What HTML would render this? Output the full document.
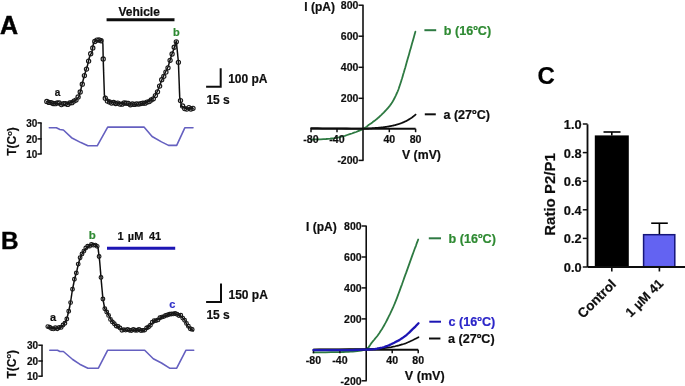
<!DOCTYPE html>
<html><head><meta charset="utf-8"><style>
html,body{margin:0;padding:0;background:#fff;}
body{width:685px;height:386px;overflow:hidden;font-family:"Liberation Sans",sans-serif;}
svg{display:block;}
</style></head><body>
<svg width="685" height="386" viewBox="0 0 685 386">
<defs><filter id="bl" x="0" y="0" width="685" height="386" filterUnits="userSpaceOnUse"><feGaussianBlur stdDeviation="0.35"/></filter></defs>
<rect width="685" height="386" fill="#fff"/>
<g filter="url(#bl)">
<text x="0.0" y="33.6" font-size="25" text-anchor="start" fill="#000" font-family="Liberation Sans, sans-serif" font-weight="bold" stroke="#000" stroke-width="0.5">A</text>
<text x="139.2" y="15.8" font-size="12" text-anchor="middle" fill="#111" font-family="Liberation Sans, sans-serif" font-weight="bold"  stroke="#111" stroke-width="0.2">Vehicle</text>
<line x1="106.6" y1="19.7" x2="174.5" y2="19.7" stroke="#111" stroke-width="3"/>
<text x="176.3" y="35.5" font-size="11" text-anchor="middle" fill="#2f8a33" font-family="Liberation Sans, sans-serif" font-weight="bold"  stroke="#2f8a33" stroke-width="0.2">b</text>
<text x="57.5" y="96.3" font-size="10" text-anchor="middle" fill="#111" font-family="Liberation Sans, sans-serif" font-weight="bold"  stroke="#111" stroke-width="0.2">a</text>
<polyline points="46.6,101.8 52.8,103.3 61.5,104.0 65.0,104.2 70.3,102.8 75.5,100.5 79.0,96.5 81.2,88.0 83.3,79.5 85.7,71.0 87.2,66.6 89.6,56.5 92.0,52.0 93.5,43.0 95.9,40.1 97.4,40.6 99.8,41.0 101.8,39.6 102.9,44.0 103.2,59.0 104.4,95.0 105.5,98.5 108.0,101.0 112.0,102.5 118.0,103.2 125.0,103.8 130.0,104.0 136.0,104.2 140.0,104.0 145.0,103.0 148.0,101.5 151.0,99.8 154.0,97.5 156.0,94.0 158.0,90.0 162.0,79.5 165.0,73.0 168.0,67.0 171.6,55.0 173.6,49.7 176.3,41.0 178.4,62.0 179.7,97.0 181.5,106.0 185.0,108.2 193.0,108.5" fill="none" stroke="#111" stroke-width="1.5" stroke-linejoin="round" stroke-linecap="round" />
<circle cx="46.8" cy="101.4" r="2.1" fill="none" stroke="#1a1a1a" stroke-width="1.15"/>
<circle cx="48.9" cy="102.4" r="2.1" fill="none" stroke="#1a1a1a" stroke-width="1.15"/>
<circle cx="51.0" cy="102.6" r="2.1" fill="none" stroke="#1a1a1a" stroke-width="1.15"/>
<circle cx="53.1" cy="103.5" r="2.1" fill="none" stroke="#1a1a1a" stroke-width="1.15"/>
<circle cx="55.2" cy="103.7" r="2.1" fill="none" stroke="#1a1a1a" stroke-width="1.15"/>
<circle cx="57.2" cy="102.9" r="2.1" fill="none" stroke="#1a1a1a" stroke-width="1.15"/>
<circle cx="59.3" cy="102.9" r="2.1" fill="none" stroke="#1a1a1a" stroke-width="1.15"/>
<circle cx="61.4" cy="104.6" r="2.1" fill="none" stroke="#1a1a1a" stroke-width="1.15"/>
<circle cx="63.5" cy="103.7" r="2.1" fill="none" stroke="#1a1a1a" stroke-width="1.15"/>
<circle cx="65.6" cy="103.6" r="2.1" fill="none" stroke="#1a1a1a" stroke-width="1.15"/>
<circle cx="67.7" cy="104.4" r="2.1" fill="none" stroke="#1a1a1a" stroke-width="1.15"/>
<circle cx="69.8" cy="102.9" r="2.1" fill="none" stroke="#1a1a1a" stroke-width="1.15"/>
<circle cx="71.9" cy="102.7" r="2.1" fill="none" stroke="#1a1a1a" stroke-width="1.15"/>
<circle cx="74.0" cy="101.1" r="2.1" fill="none" stroke="#1a1a1a" stroke-width="1.15"/>
<circle cx="76.0" cy="100.1" r="2.1" fill="none" stroke="#1a1a1a" stroke-width="1.15"/>
<circle cx="78.1" cy="96.9" r="2.1" fill="none" stroke="#1a1a1a" stroke-width="1.15"/>
<circle cx="80.2" cy="92.0" r="2.1" fill="none" stroke="#1a1a1a" stroke-width="1.15"/>
<circle cx="82.3" cy="84.2" r="2.1" fill="none" stroke="#1a1a1a" stroke-width="1.15"/>
<circle cx="84.4" cy="75.6" r="2.1" fill="none" stroke="#1a1a1a" stroke-width="1.15"/>
<circle cx="86.5" cy="69.1" r="2.1" fill="none" stroke="#1a1a1a" stroke-width="1.15"/>
<circle cx="88.6" cy="61.1" r="2.1" fill="none" stroke="#1a1a1a" stroke-width="1.15"/>
<circle cx="90.7" cy="53.7" r="2.1" fill="none" stroke="#1a1a1a" stroke-width="1.15"/>
<circle cx="92.8" cy="47.9" r="2.1" fill="none" stroke="#1a1a1a" stroke-width="1.15"/>
<circle cx="94.8" cy="41.5" r="2.1" fill="none" stroke="#1a1a1a" stroke-width="1.15"/>
<circle cx="96.9" cy="40.1" r="2.1" fill="none" stroke="#1a1a1a" stroke-width="1.15"/>
<circle cx="99.0" cy="40.0" r="2.1" fill="none" stroke="#1a1a1a" stroke-width="1.15"/>
<circle cx="101.1" cy="40.7" r="2.1" fill="none" stroke="#1a1a1a" stroke-width="1.15"/>
<circle cx="103.2" cy="59.0" r="2.1" fill="none" stroke="#1a1a1a" stroke-width="1.15"/>
<circle cx="105.3" cy="98.2" r="2.1" fill="none" stroke="#1a1a1a" stroke-width="1.15"/>
<circle cx="107.4" cy="101.1" r="2.1" fill="none" stroke="#1a1a1a" stroke-width="1.15"/>
<circle cx="109.5" cy="101.9" r="2.1" fill="none" stroke="#1a1a1a" stroke-width="1.15"/>
<circle cx="111.6" cy="103.1" r="2.1" fill="none" stroke="#1a1a1a" stroke-width="1.15"/>
<circle cx="113.6" cy="102.5" r="2.1" fill="none" stroke="#1a1a1a" stroke-width="1.15"/>
<circle cx="115.7" cy="103.5" r="2.1" fill="none" stroke="#1a1a1a" stroke-width="1.15"/>
<circle cx="117.8" cy="103.1" r="2.1" fill="none" stroke="#1a1a1a" stroke-width="1.15"/>
<circle cx="119.9" cy="104.1" r="2.1" fill="none" stroke="#1a1a1a" stroke-width="1.15"/>
<circle cx="122.0" cy="104.2" r="2.1" fill="none" stroke="#1a1a1a" stroke-width="1.15"/>
<circle cx="124.1" cy="103.0" r="2.1" fill="none" stroke="#1a1a1a" stroke-width="1.15"/>
<circle cx="126.2" cy="103.2" r="2.1" fill="none" stroke="#1a1a1a" stroke-width="1.15"/>
<circle cx="128.3" cy="103.4" r="2.1" fill="none" stroke="#1a1a1a" stroke-width="1.15"/>
<circle cx="130.4" cy="104.8" r="2.1" fill="none" stroke="#1a1a1a" stroke-width="1.15"/>
<circle cx="132.4" cy="104.0" r="2.1" fill="none" stroke="#1a1a1a" stroke-width="1.15"/>
<circle cx="134.5" cy="104.4" r="2.1" fill="none" stroke="#1a1a1a" stroke-width="1.15"/>
<circle cx="136.6" cy="103.8" r="2.1" fill="none" stroke="#1a1a1a" stroke-width="1.15"/>
<circle cx="138.7" cy="104.1" r="2.1" fill="none" stroke="#1a1a1a" stroke-width="1.15"/>
<circle cx="140.8" cy="103.6" r="2.1" fill="none" stroke="#1a1a1a" stroke-width="1.15"/>
<circle cx="142.9" cy="103.2" r="2.1" fill="none" stroke="#1a1a1a" stroke-width="1.15"/>
<circle cx="145.0" cy="103.2" r="2.1" fill="none" stroke="#1a1a1a" stroke-width="1.15"/>
<circle cx="147.1" cy="102.1" r="2.1" fill="none" stroke="#1a1a1a" stroke-width="1.15"/>
<circle cx="149.2" cy="101.6" r="2.1" fill="none" stroke="#1a1a1a" stroke-width="1.15"/>
<circle cx="151.2" cy="99.9" r="2.1" fill="none" stroke="#1a1a1a" stroke-width="1.15"/>
<circle cx="153.3" cy="98.8" r="2.1" fill="none" stroke="#1a1a1a" stroke-width="1.15"/>
<circle cx="155.4" cy="95.6" r="2.1" fill="none" stroke="#1a1a1a" stroke-width="1.15"/>
<circle cx="157.5" cy="91.8" r="2.1" fill="none" stroke="#1a1a1a" stroke-width="1.15"/>
<circle cx="159.6" cy="86.1" r="2.1" fill="none" stroke="#1a1a1a" stroke-width="1.15"/>
<circle cx="161.7" cy="79.7" r="2.1" fill="none" stroke="#1a1a1a" stroke-width="1.15"/>
<circle cx="163.8" cy="76.3" r="2.1" fill="none" stroke="#1a1a1a" stroke-width="1.15"/>
<circle cx="165.9" cy="72.1" r="2.1" fill="none" stroke="#1a1a1a" stroke-width="1.15"/>
<circle cx="168.0" cy="67.8" r="2.1" fill="none" stroke="#1a1a1a" stroke-width="1.15"/>
<circle cx="170.1" cy="60.3" r="2.1" fill="none" stroke="#1a1a1a" stroke-width="1.15"/>
<circle cx="172.1" cy="54.0" r="2.1" fill="none" stroke="#1a1a1a" stroke-width="1.15"/>
<circle cx="174.2" cy="47.2" r="2.1" fill="none" stroke="#1a1a1a" stroke-width="1.15"/>
<circle cx="176.3" cy="41.8" r="2.1" fill="none" stroke="#1a1a1a" stroke-width="1.15"/>
<circle cx="178.4" cy="62.3" r="2.1" fill="none" stroke="#1a1a1a" stroke-width="1.15"/>
<circle cx="180.5" cy="100.6" r="2.1" fill="none" stroke="#1a1a1a" stroke-width="1.15"/>
<circle cx="182.6" cy="105.9" r="2.1" fill="none" stroke="#1a1a1a" stroke-width="1.15"/>
<circle cx="184.7" cy="108.6" r="2.1" fill="none" stroke="#1a1a1a" stroke-width="1.15"/>
<circle cx="186.8" cy="109.1" r="2.1" fill="none" stroke="#1a1a1a" stroke-width="1.15"/>
<circle cx="188.9" cy="107.6" r="2.1" fill="none" stroke="#1a1a1a" stroke-width="1.15"/>
<circle cx="190.9" cy="109.0" r="2.1" fill="none" stroke="#1a1a1a" stroke-width="1.15"/>
<circle cx="193.0" cy="108.3" r="2.1" fill="none" stroke="#1a1a1a" stroke-width="1.15"/>
<polyline points="206.1,86.8 220.7,86.8 220.7,68.3" fill="none" stroke="#111" stroke-width="2"/>
<text x="228.2" y="83.1" font-size="12" text-anchor="start" fill="#111" font-family="Liberation Sans, sans-serif" font-weight="bold"  stroke="#111" stroke-width="0.2">100 pA</text>
<text x="206.4" y="103.9" font-size="12" text-anchor="start" fill="#111" font-family="Liberation Sans, sans-serif" font-weight="bold"  stroke="#111" stroke-width="0.2">15 s</text>
<line x1="41.0" y1="122.9" x2="41.0" y2="154.0" stroke="#111" stroke-width="1.5"/>
<line x1="37.5" y1="122.9" x2="41.7" y2="122.9" stroke="#111" stroke-width="1.5"/>
<line x1="37.5" y1="138.9" x2="41.7" y2="138.9" stroke="#111" stroke-width="1.5"/>
<line x1="37.5" y1="154.0" x2="41.7" y2="154.0" stroke="#111" stroke-width="1.5"/>
<text x="37.3" y="126.5" font-size="10" text-anchor="end" fill="#111" font-family="Liberation Sans, sans-serif" font-weight="bold"  stroke="#111" stroke-width="0.2">30</text>
<text x="37.3" y="142.5" font-size="10" text-anchor="end" fill="#111" font-family="Liberation Sans, sans-serif" font-weight="bold"  stroke="#111" stroke-width="0.2">20</text>
<text x="37.3" y="157.6" font-size="10" text-anchor="end" fill="#111" font-family="Liberation Sans, sans-serif" font-weight="bold"  stroke="#111" stroke-width="0.2">10</text>
<text x="0" y="0" font-size="12" text-anchor="middle" fill="#111" stroke="#111" stroke-width="0.2" font-family="Liberation Sans, sans-serif" font-weight="bold" transform="translate(16.0,141.5) rotate(-90)">T(C<tspan font-size="7.5" dy="-4.3">o</tspan><tspan dy="4.3">)</tspan></text>
<polyline points="49.3,127.8 56.4,127.8 59.9,129.5 63.4,130.0 71.5,137.7 80.9,142.6 87.9,145.8 97.2,145.8 107.7,127.1 144.0,127.1 152.1,136.5 161.5,141.9 168.5,145.4 176.7,145.4 184.8,127.8 193.0,127.8" fill="none" stroke="#6560c0" stroke-width="1.6" stroke-linejoin="round" stroke-linecap="round" />
<text x="0.9" y="249.1" font-size="24.3" text-anchor="start" fill="#000" font-family="Liberation Sans, sans-serif" font-weight="bold" stroke="#000" stroke-width="0.4">B</text>
<text x="117.6" y="240.3" font-size="11" text-anchor="start" fill="#111" font-family="Liberation Sans, sans-serif" font-weight="bold"  stroke="#111" stroke-width="0.2">1</text>
<text x="127.8" y="240.3" font-size="11" text-anchor="start" fill="#111" font-family="Liberation Sans, sans-serif" font-weight="bold"  stroke="#111" stroke-width="0.2">&#181;M</text>
<text x="148.9" y="240.3" font-size="11" text-anchor="start" fill="#111" font-family="Liberation Sans, sans-serif" font-weight="bold"  stroke="#111" stroke-width="0.2">41</text>
<line x1="107.0" y1="248.3" x2="175.2" y2="248.3" stroke="#1e14b4" stroke-width="3"/>
<text x="92.2" y="238.6" font-size="11.5" text-anchor="middle" fill="#2f8a33" font-family="Liberation Sans, sans-serif" font-weight="bold"  stroke="#2f8a33" stroke-width="0.2">b</text>
<text x="53.0" y="321.2" font-size="11" text-anchor="middle" fill="#111" font-family="Liberation Sans, sans-serif" font-weight="bold"  stroke="#111" stroke-width="0.2">a</text>
<text x="172.3" y="307.5" font-size="11" text-anchor="middle" fill="#3030c8" font-family="Liberation Sans, sans-serif" font-weight="bold"  stroke="#3030c8" stroke-width="0.2">c</text>
<polyline points="47.8,327.2 52.4,328.2 58.7,328.6 61.8,326.6 63.8,324.4 65.9,321.2 67.5,316.0 69.0,310.0 70.5,302.5 72.3,290.5 74.6,279.0 77.0,270.2 78.6,263.0 80.3,257.5 82.8,252.5 85.3,249.0 88.7,246.0 92.1,244.5 95.5,244.5 98.0,247.5 99.7,261.5 101.4,282.2 102.9,298.8 104.7,308.5 108.8,315.5 112.0,321.5 116.0,325.5 121.9,329.5 129.2,330.5 136.5,330.0 143.8,330.5 148.2,327.0 154.0,321.5 161.3,317.3 168.6,314.8 174.5,313.5 180.3,315.5 184.7,320.0 187.6,326.0 193.4,330.8" fill="none" stroke="#111" stroke-width="1.5" stroke-linejoin="round" stroke-linecap="round" />
<circle cx="47.8" cy="326.6" r="1.85" fill="none" stroke="#1a1a1a" stroke-width="1.15"/>
<circle cx="49.7" cy="327.3" r="1.85" fill="none" stroke="#1a1a1a" stroke-width="1.15"/>
<circle cx="51.6" cy="328.5" r="1.85" fill="none" stroke="#1a1a1a" stroke-width="1.15"/>
<circle cx="53.5" cy="328.9" r="1.85" fill="none" stroke="#1a1a1a" stroke-width="1.15"/>
<circle cx="55.4" cy="327.7" r="1.85" fill="none" stroke="#1a1a1a" stroke-width="1.15"/>
<circle cx="57.3" cy="328.7" r="1.85" fill="none" stroke="#1a1a1a" stroke-width="1.15"/>
<circle cx="59.2" cy="327.5" r="1.85" fill="none" stroke="#1a1a1a" stroke-width="1.15"/>
<circle cx="61.1" cy="327.4" r="1.85" fill="none" stroke="#1a1a1a" stroke-width="1.15"/>
<circle cx="63.0" cy="325.0" r="1.85" fill="none" stroke="#1a1a1a" stroke-width="1.15"/>
<circle cx="64.9" cy="323.3" r="1.85" fill="none" stroke="#1a1a1a" stroke-width="1.15"/>
<circle cx="66.8" cy="319.0" r="1.85" fill="none" stroke="#1a1a1a" stroke-width="1.15"/>
<circle cx="68.7" cy="311.2" r="1.85" fill="none" stroke="#1a1a1a" stroke-width="1.15"/>
<circle cx="70.6" cy="302.6" r="1.85" fill="none" stroke="#1a1a1a" stroke-width="1.15"/>
<circle cx="72.5" cy="289.2" r="1.85" fill="none" stroke="#1a1a1a" stroke-width="1.15"/>
<circle cx="74.4" cy="279.3" r="1.85" fill="none" stroke="#1a1a1a" stroke-width="1.15"/>
<circle cx="76.3" cy="272.9" r="1.85" fill="none" stroke="#1a1a1a" stroke-width="1.15"/>
<circle cx="78.2" cy="264.1" r="1.85" fill="none" stroke="#1a1a1a" stroke-width="1.15"/>
<circle cx="80.1" cy="257.7" r="1.85" fill="none" stroke="#1a1a1a" stroke-width="1.15"/>
<circle cx="82.0" cy="254.0" r="1.85" fill="none" stroke="#1a1a1a" stroke-width="1.15"/>
<circle cx="83.9" cy="251.1" r="1.85" fill="none" stroke="#1a1a1a" stroke-width="1.15"/>
<circle cx="85.8" cy="248.0" r="1.85" fill="none" stroke="#1a1a1a" stroke-width="1.15"/>
<circle cx="87.7" cy="246.2" r="1.85" fill="none" stroke="#1a1a1a" stroke-width="1.15"/>
<circle cx="89.6" cy="246.2" r="1.85" fill="none" stroke="#1a1a1a" stroke-width="1.15"/>
<circle cx="91.5" cy="244.5" r="1.85" fill="none" stroke="#1a1a1a" stroke-width="1.15"/>
<circle cx="93.4" cy="245.2" r="1.85" fill="none" stroke="#1a1a1a" stroke-width="1.15"/>
<circle cx="95.3" cy="245.1" r="1.85" fill="none" stroke="#1a1a1a" stroke-width="1.15"/>
<circle cx="97.2" cy="246.3" r="1.85" fill="none" stroke="#1a1a1a" stroke-width="1.15"/>
<circle cx="99.1" cy="256.5" r="1.85" fill="none" stroke="#1a1a1a" stroke-width="1.15"/>
<circle cx="101.0" cy="277.4" r="1.85" fill="none" stroke="#1a1a1a" stroke-width="1.15"/>
<circle cx="102.9" cy="299.0" r="1.85" fill="none" stroke="#1a1a1a" stroke-width="1.15"/>
<circle cx="104.8" cy="308.8" r="1.85" fill="none" stroke="#1a1a1a" stroke-width="1.15"/>
<circle cx="106.7" cy="312.0" r="1.85" fill="none" stroke="#1a1a1a" stroke-width="1.15"/>
<circle cx="108.6" cy="315.4" r="1.85" fill="none" stroke="#1a1a1a" stroke-width="1.15"/>
<circle cx="110.5" cy="319.4" r="1.85" fill="none" stroke="#1a1a1a" stroke-width="1.15"/>
<circle cx="112.4" cy="321.9" r="1.85" fill="none" stroke="#1a1a1a" stroke-width="1.15"/>
<circle cx="114.3" cy="323.7" r="1.85" fill="none" stroke="#1a1a1a" stroke-width="1.15"/>
<circle cx="116.2" cy="326.0" r="1.85" fill="none" stroke="#1a1a1a" stroke-width="1.15"/>
<circle cx="118.1" cy="326.5" r="1.85" fill="none" stroke="#1a1a1a" stroke-width="1.15"/>
<circle cx="120.0" cy="327.9" r="1.85" fill="none" stroke="#1a1a1a" stroke-width="1.15"/>
<circle cx="121.9" cy="330.3" r="1.85" fill="none" stroke="#1a1a1a" stroke-width="1.15"/>
<circle cx="123.8" cy="329.8" r="1.85" fill="none" stroke="#1a1a1a" stroke-width="1.15"/>
<circle cx="125.7" cy="330.1" r="1.85" fill="none" stroke="#1a1a1a" stroke-width="1.15"/>
<circle cx="127.6" cy="329.5" r="1.85" fill="none" stroke="#1a1a1a" stroke-width="1.15"/>
<circle cx="129.5" cy="330.3" r="1.85" fill="none" stroke="#1a1a1a" stroke-width="1.15"/>
<circle cx="131.4" cy="330.5" r="1.85" fill="none" stroke="#1a1a1a" stroke-width="1.15"/>
<circle cx="133.3" cy="329.5" r="1.85" fill="none" stroke="#1a1a1a" stroke-width="1.15"/>
<circle cx="135.2" cy="330.3" r="1.85" fill="none" stroke="#1a1a1a" stroke-width="1.15"/>
<circle cx="137.1" cy="330.3" r="1.85" fill="none" stroke="#1a1a1a" stroke-width="1.15"/>
<circle cx="139.0" cy="329.5" r="1.85" fill="none" stroke="#1a1a1a" stroke-width="1.15"/>
<circle cx="140.9" cy="330.5" r="1.85" fill="none" stroke="#1a1a1a" stroke-width="1.15"/>
<circle cx="142.8" cy="330.4" r="1.85" fill="none" stroke="#1a1a1a" stroke-width="1.15"/>
<circle cx="144.7" cy="330.1" r="1.85" fill="none" stroke="#1a1a1a" stroke-width="1.15"/>
<circle cx="146.6" cy="328.0" r="1.85" fill="none" stroke="#1a1a1a" stroke-width="1.15"/>
<circle cx="148.5" cy="327.0" r="1.85" fill="none" stroke="#1a1a1a" stroke-width="1.15"/>
<circle cx="150.4" cy="325.3" r="1.85" fill="none" stroke="#1a1a1a" stroke-width="1.15"/>
<circle cx="152.3" cy="322.3" r="1.85" fill="none" stroke="#1a1a1a" stroke-width="1.15"/>
<circle cx="154.2" cy="320.7" r="1.85" fill="none" stroke="#1a1a1a" stroke-width="1.15"/>
<circle cx="156.1" cy="320.6" r="1.85" fill="none" stroke="#1a1a1a" stroke-width="1.15"/>
<circle cx="158.0" cy="319.9" r="1.85" fill="none" stroke="#1a1a1a" stroke-width="1.15"/>
<circle cx="159.9" cy="317.7" r="1.85" fill="none" stroke="#1a1a1a" stroke-width="1.15"/>
<circle cx="161.8" cy="317.1" r="1.85" fill="none" stroke="#1a1a1a" stroke-width="1.15"/>
<circle cx="163.7" cy="316.6" r="1.85" fill="none" stroke="#1a1a1a" stroke-width="1.15"/>
<circle cx="165.6" cy="315.5" r="1.85" fill="none" stroke="#1a1a1a" stroke-width="1.15"/>
<circle cx="167.5" cy="315.0" r="1.85" fill="none" stroke="#1a1a1a" stroke-width="1.15"/>
<circle cx="169.4" cy="314.3" r="1.85" fill="none" stroke="#1a1a1a" stroke-width="1.15"/>
<circle cx="171.3" cy="314.0" r="1.85" fill="none" stroke="#1a1a1a" stroke-width="1.15"/>
<circle cx="173.2" cy="313.9" r="1.85" fill="none" stroke="#1a1a1a" stroke-width="1.15"/>
<circle cx="175.1" cy="313.4" r="1.85" fill="none" stroke="#1a1a1a" stroke-width="1.15"/>
<circle cx="177.0" cy="314.2" r="1.85" fill="none" stroke="#1a1a1a" stroke-width="1.15"/>
<circle cx="178.9" cy="315.5" r="1.85" fill="none" stroke="#1a1a1a" stroke-width="1.15"/>
<circle cx="180.8" cy="315.3" r="1.85" fill="none" stroke="#1a1a1a" stroke-width="1.15"/>
<circle cx="182.7" cy="318.1" r="1.85" fill="none" stroke="#1a1a1a" stroke-width="1.15"/>
<circle cx="184.6" cy="320.3" r="1.85" fill="none" stroke="#1a1a1a" stroke-width="1.15"/>
<circle cx="186.5" cy="323.4" r="1.85" fill="none" stroke="#1a1a1a" stroke-width="1.15"/>
<circle cx="188.4" cy="326.2" r="1.85" fill="none" stroke="#1a1a1a" stroke-width="1.15"/>
<circle cx="190.3" cy="328.7" r="1.85" fill="none" stroke="#1a1a1a" stroke-width="1.15"/>
<circle cx="192.2" cy="329.4" r="1.85" fill="none" stroke="#1a1a1a" stroke-width="1.15"/>
<polyline points="206.1,302.1 221,302.1 221,283.6" fill="none" stroke="#111" stroke-width="2"/>
<text x="228.5" y="298.5" font-size="12" text-anchor="start" fill="#111" font-family="Liberation Sans, sans-serif" font-weight="bold"  stroke="#111" stroke-width="0.2">150 pA</text>
<text x="206.4" y="319.2" font-size="12" text-anchor="start" fill="#111" font-family="Liberation Sans, sans-serif" font-weight="bold"  stroke="#111" stroke-width="0.2">15 s</text>
<line x1="42.0" y1="345.2" x2="42.0" y2="376.2" stroke="#111" stroke-width="1.5"/>
<line x1="38.3" y1="345.2" x2="42.7" y2="345.2" stroke="#111" stroke-width="1.5"/>
<line x1="38.3" y1="361.0" x2="42.7" y2="361.0" stroke="#111" stroke-width="1.5"/>
<line x1="38.3" y1="376.2" x2="42.7" y2="376.2" stroke="#111" stroke-width="1.5"/>
<text x="38.0" y="349.0" font-size="10" text-anchor="end" fill="#111" font-family="Liberation Sans, sans-serif" font-weight="bold"  stroke="#111" stroke-width="0.2">30</text>
<text x="38.0" y="364.6" font-size="10" text-anchor="end" fill="#111" font-family="Liberation Sans, sans-serif" font-weight="bold"  stroke="#111" stroke-width="0.2">20</text>
<text x="38.0" y="379.8" font-size="10" text-anchor="end" fill="#111" font-family="Liberation Sans, sans-serif" font-weight="bold"  stroke="#111" stroke-width="0.2">10</text>
<text x="0" y="0" font-size="12" text-anchor="middle" fill="#111" stroke="#111" stroke-width="0.2" font-family="Liberation Sans, sans-serif" font-weight="bold" transform="translate(15.6,364.3) rotate(-90)">T(C<tspan font-size="7.5" dy="-4.3">o</tspan><tspan dy="4.3">)</tspan></text>
<polyline points="49.8,350.2 57.5,350.2 59.9,351.5 63.4,351.5 72.7,359.5 79.7,364.2 87.9,368.2 98.4,368.2 107.7,350.2 144.7,350.2 153.3,358.8 161.5,363.0 169.6,368.2 176.7,368.2 186.0,350.2 193.7,350.2" fill="none" stroke="#6560c0" stroke-width="1.6" stroke-linejoin="round" stroke-linecap="round" />
<polyline points="311.0,128.2 313.8,128.2 317.7,128.2 322.4,128.3 327.4,128.3 332.4,128.4 337.0,128.4 341.6,128.4 346.5,128.5 351.5,128.6 356.1,128.6 360.0,128.7 363.0,128.7 364.8,128.7 365.6,128.7 365.8,128.7 365.6,128.6 365.5,128.6 365.6,128.6 366.1,128.6 366.5,128.6 366.9,128.5 367.4,128.5 367.8,128.5 368.3,128.5 368.7,128.5 369.1,128.4 369.6,128.4 370.0,128.4 370.5,128.4 370.9,128.3 371.3,128.3 371.8,128.3 372.2,128.2 372.6,128.2 373.1,128.2 373.5,128.2 374.0,128.1 374.4,128.1 374.8,128.1 375.3,128.0 375.7,128.0 376.1,128.0 376.6,127.9 377.0,127.9 377.5,127.9 377.9,127.8 378.3,127.8 378.8,127.7 379.2,127.7 379.7,127.6 380.1,127.6 380.5,127.6 381.0,127.5 381.4,127.5 381.8,127.4 382.3,127.4 382.7,127.3 383.2,127.3 383.6,127.2 384.0,127.1 384.5,127.1 384.9,127.0 385.4,127.0 385.8,126.9 386.2,126.8 386.7,126.8 387.1,126.7 387.5,126.6 388.0,126.6 388.4,126.5 388.9,126.4 389.3,126.3 389.7,126.2 390.2,126.2 390.6,126.1 391.1,126.0 391.5,125.9 391.9,125.8 392.4,125.7 392.8,125.6 393.2,125.5 393.7,125.4 394.1,125.3 394.6,125.2 395.0,125.1 395.4,125.0 395.9,124.9 396.3,124.7 396.8,124.6 397.2,124.5 397.6,124.4 398.1,124.2 398.5,124.1 398.9,124.0 399.4,123.8 399.8,123.7 400.3,123.5 400.7,123.4 401.1,123.2 401.6,123.0 402.0,122.9 402.4,122.7 402.9,122.5 403.3,122.3 403.8,122.1 404.2,121.9 404.6,121.7 405.1,121.5 405.5,121.3 406.0,121.1 406.4,120.9 406.8,120.7 407.3,120.4 407.7,120.2 408.1,119.9 408.6,119.7 409.0,119.4 409.5,119.2 409.9,118.9 410.3,118.6 410.8,118.3 411.2,118.0 411.7,117.7 412.1,117.4 412.5,117.1 413.0,116.8 413.4,116.4 413.9,116.0 414.4,115.6 414.9,115.2 415.3,114.8 415.6,114.6" fill="none" stroke="#111" stroke-width="1.8" stroke-linejoin="round" stroke-linecap="round" />
<polyline points="311.0,139.5 312.7,139.5 315.0,139.4 317.8,139.3 320.7,139.3 323.5,139.1 326.0,139.0 328.1,138.8 330.0,138.7 331.8,138.5 333.7,138.3 335.5,138.0 337.6,137.6 339.9,137.1 342.3,136.5 344.8,135.8 347.2,135.0 349.7,134.2 351.9,133.5 354.0,132.7 356.1,132.0 358.1,131.2 360.0,130.4 361.7,129.6 363.3,128.8 364.6,128.0 365.8,127.3 366.7,126.6 367.6,125.8 368.4,125.1 369.3,124.5 370.1,123.9 370.9,123.4 371.6,122.9 372.4,122.4 373.1,121.8 373.8,121.3 374.5,120.7 375.3,120.2 376.0,119.6 376.8,119.0 377.5,118.3 378.3,117.7 379.1,117.0 379.8,116.3 380.6,115.6 381.4,114.9 382.1,114.2 382.9,113.4 383.7,112.6 384.4,111.8 385.2,111.0 386.0,110.2 386.7,109.4 387.4,108.6 388.1,107.8 388.7,107.1 389.3,106.4 389.9,105.6 390.4,104.9 391.0,104.1 391.6,103.3 392.1,102.4 392.7,101.5 393.2,100.6 393.7,99.7 394.2,98.8 394.6,98.0 395.0,97.2 395.4,96.4 395.8,95.6 396.1,94.8 396.5,94.0 396.9,93.2 397.2,92.4 397.6,91.6 397.9,90.8 398.3,89.8 398.7,88.7 399.1,87.4 399.6,86.0 400.1,84.5 400.6,83.0 401.1,81.4 401.6,79.8 402.1,78.3 402.5,76.9 402.9,75.5 403.3,74.0 403.9,72.2 404.5,70.0 405.3,67.4 406.1,64.4 407.0,61.2 408.0,57.8 409.0,54.4 409.9,51.1 410.9,47.7 411.9,44.0 413.0,40.2 414.0,36.7 414.8,33.8 415.4,31.7" fill="none" stroke="#2e7a42" stroke-width="1.8" stroke-linejoin="round" stroke-linecap="round" />
<line x1="363.0" y1="5.2" x2="363.0" y2="160.4" stroke="#111" stroke-width="1.6"/>
<line x1="358.5" y1="5.2" x2="363.5" y2="5.2" stroke="#111" stroke-width="1.5"/>
<text x="358.4" y="9.0" font-size="10.5" text-anchor="end" fill="#111" font-family="Liberation Sans, sans-serif" font-weight="bold"  stroke="#111" stroke-width="0.2">800</text>
<line x1="358.5" y1="36.2" x2="363.5" y2="36.2" stroke="#111" stroke-width="1.5"/>
<text x="358.4" y="40.0" font-size="10.5" text-anchor="end" fill="#111" font-family="Liberation Sans, sans-serif" font-weight="bold"  stroke="#111" stroke-width="0.2">600</text>
<line x1="358.5" y1="67.3" x2="363.5" y2="67.3" stroke="#111" stroke-width="1.5"/>
<text x="358.4" y="71.1" font-size="10.5" text-anchor="end" fill="#111" font-family="Liberation Sans, sans-serif" font-weight="bold"  stroke="#111" stroke-width="0.2">400</text>
<line x1="358.5" y1="98.3" x2="363.5" y2="98.3" stroke="#111" stroke-width="1.5"/>
<text x="358.4" y="102.1" font-size="10.5" text-anchor="end" fill="#111" font-family="Liberation Sans, sans-serif" font-weight="bold"  stroke="#111" stroke-width="0.2">200</text>
<line x1="358.5" y1="160.4" x2="363.5" y2="160.4" stroke="#111" stroke-width="1.5"/>
<text x="358.4" y="164.2" font-size="10.5" text-anchor="end" fill="#111" font-family="Liberation Sans, sans-serif" font-weight="bold"  stroke="#111" stroke-width="0.2">-200</text>
<line x1="311.0" y1="128.7" x2="415.6" y2="128.7" stroke="#111" stroke-width="2"/>
<line x1="311.0" y1="128.7" x2="311.0" y2="132.2" stroke="#111" stroke-width="1.5"/>
<text x="311.0" y="143.2" font-size="10.6" text-anchor="middle" fill="#111" font-family="Liberation Sans, sans-serif" font-weight="bold"  stroke="#111" stroke-width="0.2">-80</text>
<line x1="337.0" y1="128.7" x2="337.0" y2="132.2" stroke="#111" stroke-width="1.5"/>
<text x="337.0" y="143.2" font-size="10.6" text-anchor="middle" fill="#111" font-family="Liberation Sans, sans-serif" font-weight="bold"  stroke="#111" stroke-width="0.2">-40</text>
<line x1="389.3" y1="128.7" x2="389.3" y2="132.2" stroke="#111" stroke-width="1.5"/>
<text x="389.3" y="143.2" font-size="10.6" text-anchor="middle" fill="#111" font-family="Liberation Sans, sans-serif" font-weight="bold"  stroke="#111" stroke-width="0.2">40</text>
<line x1="415.6" y1="128.7" x2="415.6" y2="132.2" stroke="#111" stroke-width="1.5"/>
<text x="415.6" y="143.2" font-size="10.6" text-anchor="middle" fill="#111" font-family="Liberation Sans, sans-serif" font-weight="bold"  stroke="#111" stroke-width="0.2">80</text>
<text x="304.3" y="11.2" font-size="12" text-anchor="start" fill="#111" font-family="Liberation Sans, sans-serif" font-weight="bold"  stroke="#111" stroke-width="0.2">I (pA)</text>
<text x="402.0" y="159.2" font-size="12.3" text-anchor="start" fill="#111" font-family="Liberation Sans, sans-serif" font-weight="bold"  stroke="#111" stroke-width="0.2">V (mV)</text>
<line x1="424.4" y1="30.2" x2="436.2" y2="30.2" stroke="#2e7a42" stroke-width="2"/>
<text x="443.8" y="34.9" font-size="12.6" text-anchor="start" fill="#2f8a33" font-family="Liberation Sans, sans-serif" font-weight="bold"  stroke="#2f8a33" stroke-width="0.2">b (16&#186;C)</text>
<line x1="424.8" y1="114.3" x2="435.8" y2="114.3" stroke="#111" stroke-width="2"/>
<text x="443.4" y="119.0" font-size="12.6" text-anchor="start" fill="#111" font-family="Liberation Sans, sans-serif" font-weight="bold"  stroke="#111" stroke-width="0.2">a (27&#186;C)</text>
<polyline points="313.5,352.4 316.5,352.4 320.8,352.3 325.8,352.3 331.0,352.2 335.9,352.2 340.0,352.1 343.2,352.0 346.0,351.9 348.4,351.8 350.7,351.7 352.8,351.5 355.0,351.3 357.2,351.1 359.3,350.8 361.3,350.5 363.2,350.2 364.9,349.7 366.4,349.0 367.7,348.1 368.7,347.1 369.6,345.9 370.4,344.6 371.2,343.4 372.1,342.2 373.0,341.1 374.0,340.0 374.9,338.9 375.8,337.8 376.7,336.7 377.5,335.7 378.2,334.7 378.9,333.7 379.6,332.8 380.2,331.8 380.8,330.8 381.5,329.8 382.2,328.7 382.8,327.6 383.5,326.5 384.2,325.3 384.8,324.1 385.5,322.9 386.2,321.6 386.9,320.3 387.5,319.0 388.2,317.6 388.9,316.2 389.6,314.8 390.3,313.4 391.0,311.9 391.7,310.4 392.4,308.9 393.2,307.2 393.9,305.5 394.7,303.7 395.5,301.7 396.3,299.7 397.1,297.6 397.9,295.4 398.7,293.3 399.5,291.1 400.3,288.9 401.1,286.6 402.0,284.3 402.8,282.0 403.6,279.7 404.4,277.4 405.2,275.2 406.1,272.9 406.9,270.6 407.7,268.4 408.5,266.1 409.3,263.9 410.1,261.6 410.9,259.4 411.7,257.1 412.5,254.9 413.3,252.7 414.2,250.3 415.1,247.8 416.1,245.3 416.9,242.9 417.7,240.9 418.2,239.5" fill="none" stroke="#2e7a42" stroke-width="1.8" stroke-linejoin="round" stroke-linecap="round" />
<polyline points="313.5,349.5 319.7,349.4 328.5,349.4 338.9,349.3 349.4,349.2 358.9,349.1 366.0,349.0 370.6,348.9 373.6,348.8 375.6,348.8 377.0,348.7 378.3,348.5 380.0,348.4 382.0,348.2 384.0,348.1 385.8,347.9 387.7,347.7 389.5,347.4 391.3,347.1 393.2,346.7 395.1,346.3 397.0,345.8 398.9,345.4 400.6,344.9 402.2,344.4 403.6,344.0 404.8,343.6 405.9,343.2 407.0,342.7 408.1,342.3 409.4,341.7 410.9,341.0 412.6,340.2 414.4,339.3 416.1,338.4 417.5,337.7 418.5,337.2" fill="none" stroke="#111" stroke-width="1.7" stroke-linejoin="round" stroke-linecap="round" />
<line x1="366.2" y1="226.0" x2="366.2" y2="380.8" stroke="#111" stroke-width="1.6"/>
<line x1="361.7" y1="226.0" x2="366.7" y2="226.0" stroke="#111" stroke-width="1.5"/>
<text x="361.6" y="229.8" font-size="10.5" text-anchor="end" fill="#111" font-family="Liberation Sans, sans-serif" font-weight="bold"  stroke="#111" stroke-width="0.2">800</text>
<line x1="361.7" y1="257.0" x2="366.7" y2="257.0" stroke="#111" stroke-width="1.5"/>
<text x="361.6" y="260.8" font-size="10.5" text-anchor="end" fill="#111" font-family="Liberation Sans, sans-serif" font-weight="bold"  stroke="#111" stroke-width="0.2">600</text>
<line x1="361.7" y1="287.9" x2="366.7" y2="287.9" stroke="#111" stroke-width="1.5"/>
<text x="361.6" y="291.7" font-size="10.5" text-anchor="end" fill="#111" font-family="Liberation Sans, sans-serif" font-weight="bold"  stroke="#111" stroke-width="0.2">400</text>
<line x1="361.7" y1="318.9" x2="366.7" y2="318.9" stroke="#111" stroke-width="1.5"/>
<text x="361.6" y="322.7" font-size="10.5" text-anchor="end" fill="#111" font-family="Liberation Sans, sans-serif" font-weight="bold"  stroke="#111" stroke-width="0.2">200</text>
<line x1="361.7" y1="380.8" x2="366.7" y2="380.8" stroke="#111" stroke-width="1.5"/>
<text x="361.6" y="384.6" font-size="10.5" text-anchor="end" fill="#111" font-family="Liberation Sans, sans-serif" font-weight="bold"  stroke="#111" stroke-width="0.2">-200</text>
<line x1="313.5" y1="349.8" x2="418.2" y2="349.8" stroke="#111" stroke-width="2"/>
<line x1="313.5" y1="349.8" x2="313.5" y2="353.3" stroke="#111" stroke-width="1.5"/>
<text x="313.5" y="364.3" font-size="10.6" text-anchor="middle" fill="#111" font-family="Liberation Sans, sans-serif" font-weight="bold"  stroke="#111" stroke-width="0.2">-80</text>
<line x1="339.9" y1="349.8" x2="339.9" y2="353.3" stroke="#111" stroke-width="1.5"/>
<text x="339.9" y="364.3" font-size="10.6" text-anchor="middle" fill="#111" font-family="Liberation Sans, sans-serif" font-weight="bold"  stroke="#111" stroke-width="0.2">-40</text>
<line x1="392.2" y1="349.8" x2="392.2" y2="353.3" stroke="#111" stroke-width="1.5"/>
<text x="392.2" y="364.3" font-size="10.6" text-anchor="middle" fill="#111" font-family="Liberation Sans, sans-serif" font-weight="bold"  stroke="#111" stroke-width="0.2">40</text>
<line x1="418.2" y1="349.8" x2="418.2" y2="353.3" stroke="#111" stroke-width="1.5"/>
<text x="418.2" y="364.3" font-size="10.6" text-anchor="middle" fill="#111" font-family="Liberation Sans, sans-serif" font-weight="bold"  stroke="#111" stroke-width="0.2">80</text>
<polyline points="313.5,350.2 316.4,350.2 320.4,350.2 325.1,350.2 330.2,350.2 335.3,350.2 340.0,350.2 344.5,350.1 349.3,350.1 354.0,350.0 358.5,349.8 362.5,349.7 366.0,349.6 368.7,349.5 370.8,349.4 372.5,349.3 373.9,349.2 375.4,349.0 377.0,348.7 378.8,348.3 380.6,347.9 382.4,347.5 384.2,347.0 385.9,346.4 387.6,345.8 389.3,345.1 391.0,344.3 392.6,343.5 394.2,342.7 395.5,342.0 396.7,341.4 397.5,341.0 398.1,340.7 398.4,340.6 398.8,340.4 399.3,340.1 400.0,339.6 401.0,338.9 402.1,338.2 403.3,337.4 404.7,336.4 406.1,335.3 407.6,334.0 409.4,332.4 411.4,330.4 413.5,328.3 415.6,326.3 417.3,324.5 418.5,323.3" fill="none" stroke="#1e14b4" stroke-width="2.3" stroke-linejoin="round" stroke-linecap="round" />
<text x="306.0" y="231.4" font-size="12" text-anchor="start" fill="#111" font-family="Liberation Sans, sans-serif" font-weight="bold"  stroke="#111" stroke-width="0.2">I (pA)</text>
<text x="404.8" y="380.4" font-size="12.6" text-anchor="start" fill="#111" font-family="Liberation Sans, sans-serif" font-weight="bold"  stroke="#111" stroke-width="0.2">V (mV)</text>
<line x1="428.8" y1="238.3" x2="441.0" y2="238.3" stroke="#2e7a42" stroke-width="2"/>
<text x="448.6" y="243.0" font-size="12.6" text-anchor="start" fill="#2f8a33" font-family="Liberation Sans, sans-serif" font-weight="bold"  stroke="#2f8a33" stroke-width="0.2">b (16&#186;C)</text>
<line x1="429.3" y1="321.7" x2="441.0" y2="321.7" stroke="#1e14b4" stroke-width="2"/>
<text x="448.6" y="326.4" font-size="12.6" text-anchor="start" fill="#2b25c8" font-family="Liberation Sans, sans-serif" font-weight="bold"  stroke="#2b25c8" stroke-width="0.2">c (16&#186;C)</text>
<line x1="429.0" y1="338.5" x2="440.4" y2="338.5" stroke="#111" stroke-width="2"/>
<text x="448.0" y="343.2" font-size="12.6" text-anchor="start" fill="#111" font-family="Liberation Sans, sans-serif" font-weight="bold"  stroke="#111" stroke-width="0.2">a (27&#186;C)</text>
<text x="537.4" y="84.0" font-size="24" text-anchor="start" fill="#000" font-family="Liberation Sans, sans-serif" font-weight="bold"  stroke="#000" stroke-width="0.2">C</text>
<rect x="594.8" y="135.4" width="34" height="131.6" fill="#000"/>
<line x1="611.8" y1="135.4" x2="611.8" y2="132.0" stroke="#000" stroke-width="1.6"/>
<line x1="603.5" y1="132.0" x2="620.5" y2="132.0" stroke="#000" stroke-width="1.6"/>
<rect x="643.6" y="234.7" width="31.2" height="32" fill="#6464f2" stroke="#15157a" stroke-width="1.5"/>
<line x1="659.4" y1="234.0" x2="659.4" y2="223.2" stroke="#000" stroke-width="1.6"/>
<line x1="651.2" y1="223.2" x2="667.8" y2="223.2" stroke="#000" stroke-width="1.6"/>
<line x1="587.5" y1="124.3" x2="587.5" y2="267.0" stroke="#111" stroke-width="1.8"/>
<line x1="582.8" y1="124.0" x2="587.5" y2="124.0" stroke="#111" stroke-width="1.5"/>
<text x="581.6" y="129.0" font-size="12.8" text-anchor="end" fill="#111" font-family="Liberation Sans, sans-serif" font-weight="bold"  stroke="#111" stroke-width="0.2">1.0</text>
<line x1="582.8" y1="152.6" x2="587.5" y2="152.6" stroke="#111" stroke-width="1.5"/>
<text x="581.6" y="157.6" font-size="12.8" text-anchor="end" fill="#111" font-family="Liberation Sans, sans-serif" font-weight="bold"  stroke="#111" stroke-width="0.2">0.8</text>
<line x1="582.8" y1="181.2" x2="587.5" y2="181.2" stroke="#111" stroke-width="1.5"/>
<text x="581.6" y="186.2" font-size="12.8" text-anchor="end" fill="#111" font-family="Liberation Sans, sans-serif" font-weight="bold"  stroke="#111" stroke-width="0.2">0.6</text>
<line x1="582.8" y1="209.8" x2="587.5" y2="209.8" stroke="#111" stroke-width="1.5"/>
<text x="581.6" y="214.8" font-size="12.8" text-anchor="end" fill="#111" font-family="Liberation Sans, sans-serif" font-weight="bold"  stroke="#111" stroke-width="0.2">0.4</text>
<line x1="582.8" y1="238.4" x2="587.5" y2="238.4" stroke="#111" stroke-width="1.5"/>
<text x="581.6" y="243.4" font-size="12.8" text-anchor="end" fill="#111" font-family="Liberation Sans, sans-serif" font-weight="bold"  stroke="#111" stroke-width="0.2">0.2</text>
<line x1="582.8" y1="267.0" x2="587.5" y2="267.0" stroke="#111" stroke-width="1.5"/>
<text x="581.6" y="272.0" font-size="12.8" text-anchor="end" fill="#111" font-family="Liberation Sans, sans-serif" font-weight="bold"  stroke="#111" stroke-width="0.2">0.0</text>
<line x1="587.5" y1="267.0" x2="685.0" y2="267.0" stroke="#111" stroke-width="2"/>
<line x1="611.8" y1="267.0" x2="611.8" y2="271.5" stroke="#111" stroke-width="1.6"/>
<line x1="659.4" y1="267.0" x2="659.4" y2="271.5" stroke="#111" stroke-width="1.6"/>
<text x="0" y="0" font-size="15" text-anchor="middle" fill="#111" stroke="#111" stroke-width="0.2" font-family="Liberation Sans, sans-serif" font-weight="bold" transform="translate(555.3,194.5) rotate(-90)">Ratio P2/P1</text>
<text x="0" y="0" font-size="13.5" text-anchor="end" fill="#111" stroke="#111" stroke-width="0.2" font-family="Liberation Sans, sans-serif" font-weight="bold" transform="translate(617,285) rotate(-45)">Control</text>
<text x="0" y="0" font-size="13" text-anchor="end" fill="#111" stroke="#111" stroke-width="0.2" font-family="Liberation Sans, sans-serif" font-weight="bold" transform="translate(664.2,284.3) rotate(-45)">1 &#181;M 41</text>
</g>
</svg>
</body></html>
